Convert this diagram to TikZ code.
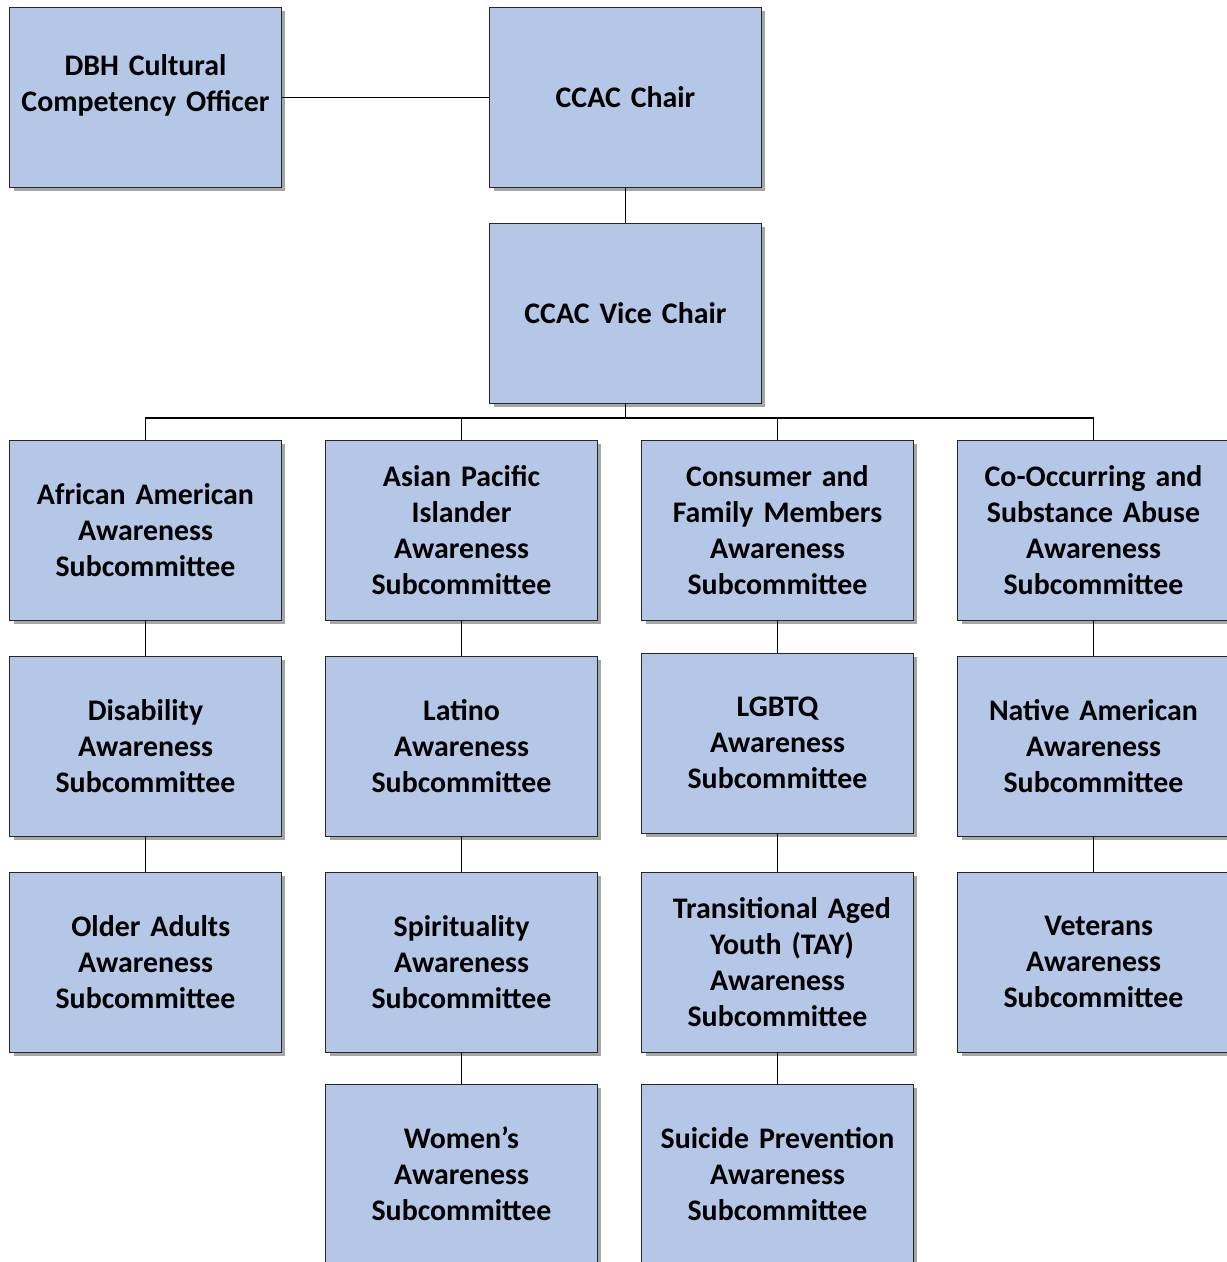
\documentclass[tikz,border=0pt]{standalone}
\usepackage{fontspec}
\setmainfont{Carlito}
\usetikzlibrary{shadows}
\definecolor{boxblue}{HTML}{B4C7E7}
\tikzset{
  % boxes of the committee chart
  unit node/.style={rectangle,draw=black!85,fill=boxblue,thin,
    minimum width=5.42cm,minimum height=3.6cm,text width=5.2cm,align=center,
    font=\fontsize{17}{20.5}\selectfont\bfseries,
    drop shadow={shadow xshift=2.2pt,shadow yshift=-2.2pt,fill=black,opacity=.35}},
  link/.style={draw,black,line width=1.1pt}
}
\begin{document}
\begin{tikzpicture}[x=0.02cm,y=-0.02cm]
\useasboundingbox (0,0) rectangle (1227,1262);
\clip (0,0) rectangle (1227,1262);
\fill[white] (0,0) rectangle (1227,1262);
% top
\node[unit node] (dbh) at (145.5,97.5) {DBH Cultural\\Competency Officer\\[-4.5pt]\mbox{}};
\node[unit node] (chair) at (625.5,97.5) {CCAC Chair};
\node[unit node] (vice) at (625.5,313.5) {CCAC Vice Chair};
% first column
\node[unit node] (afam) at (145.5,530) {African American\\Awareness\\Subcommittee};
\node[unit node] (dis) at (145.5,746) {Disability\\Awareness\\Subcommittee};
\node[unit node] (old) at (145.5,962) {\hspace*{6pt}Older Adults\\Awareness\\Subcommittee};
% second column
\node[unit node] (api) at (461.5,530) {Asian Pacific\\Islander\\Awareness\\Subcommittee};
\node[unit node] (lat) at (461.5,746) {Latino\\Awareness\\Subcommittee};
\node[unit node] (spi) at (461.5,962) {Spirituality\\Awareness\\Subcommittee};
\node[unit node] (wom) at (461.5,1174) {Women’s\\Awareness\\Subcommittee};
% third column
\node[unit node] (cfm) at (777.5,530) {Consumer and\\Family Members\\Awareness\\Subcommittee};
\node[unit node] (lgb) at (777.5,743) {LGBTQ\\Awareness\\Subcommittee};
\node[unit node] (tay) at (777.5,962) {\hspace*{5pt}Transitional Aged\\\hspace*{5pt}Youth (TAY)\\Awareness\\Subcommittee};
\node[unit node] (sui) at (777.5,1174) {Suicide Prevention\\Awareness\\Subcommittee};
% fourth column
\node[unit node] (cos) at (1093.5,530) {Co-Occurring and\\Substance Abuse\\Awareness\\Subcommittee};
\node[unit node] (nat) at (1093.5,746) {Native American\\Awareness\\Subcommittee};
\node[unit node] (vet) at (1093.5,962) {\hspace*{6pt}Veterans\\Awareness\\Subcommittee};
% connectors
\coordinate (bus) at (625.5,418);
\begin{scope}[on background layer/.try]
\draw[link] (dbh) -- (chair);
\draw[link] (chair) -- (vice);
\foreach \n in {afam,api,cfm,cos}
  \draw[link] (vice.south) |- (bus -| \n.north) -- (\n.north);
\draw[link] (afam) -- (dis) -- (old);
\draw[link] (api) -- (lat) -- (spi) -- (wom);
\draw[link] (cfm) -- (lgb) -- (tay) -- (sui);
\draw[link] (cos) -- (nat) -- (vet);
\end{scope}
\end{tikzpicture}
\end{document}
